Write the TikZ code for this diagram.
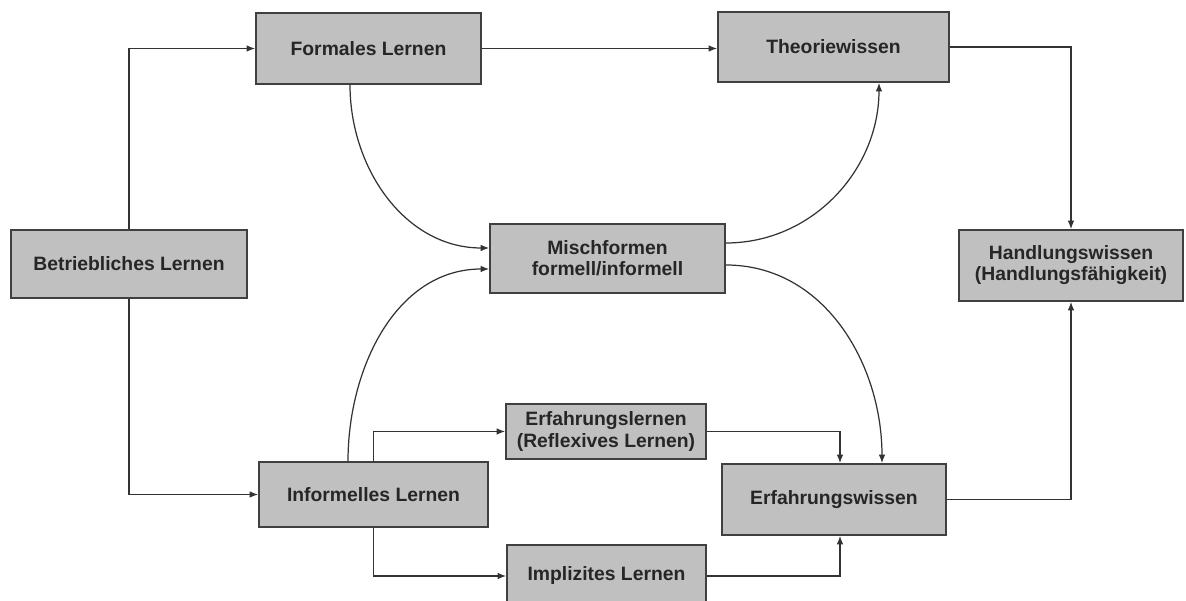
\documentclass[tikz,border=0pt]{standalone}
\usepackage{fontspec}
\setmainfont{Liberation Sans}
\usepackage{xcolor}
\usetikzlibrary{positioning,calc,arrows.meta}

\begin{document}
\begin{tikzpicture}[
    every node/.style={draw=boxline,fill=boxfill,line width=0.9pt,inner sep=0pt,align=center,
      font=\fontsize{11}{12}\selectfont\bfseries,text=black!85},
    conn/.style={draw=arrowline,line width=0.7pt,-{Latex[length=1.7mm,width=1.3mm]}}
  ]
  \definecolor{boxfill}{HTML}{C0C0C0}
  \definecolor{boxline}{HTML}{404040}
  \definecolor{arrowline}{HTML}{333333}

  \useasboundingbox (0,0) rectangle (23.72,-12.02);

  \node[minimum width=4.72cm,minimum height=1.36cm] at (2.58,-5.28)   (betrieb)   {Betriebliches Lernen};
  \node[minimum width=4.50cm,minimum height=1.42cm] at (7.37,-0.97)   (formal)    {Formales Lernen};
  \node[minimum width=4.62cm,minimum height=1.40cm] at (16.67,-0.94)  (theorie)   {Theoriewissen};
  \node[minimum width=4.70cm,minimum height=1.38cm] at (12.15,-5.17)  (misch)     {Mischformen\\formell/informell};
  \node[minimum width=4.48cm,minimum height=1.42cm] at (21.42,-5.31)  (handlung)  {Handlungswissen\\(Handlungsfähigkeit)};
  \node[minimum width=4.58cm,minimum height=1.30cm] at (7.47,-9.89)   (informell) {Informelles Lernen};
  \node[minimum width=4.00cm,minimum height=1.10cm] at (12.12,-8.63)  (erflernen) {Erfahrungslernen\\(Reflexives Lernen)};
  \node[minimum width=4.48cm,minimum height=1.42cm] at (16.68,-9.99)  (erfwissen) {Erfahrungswissen};
  \node[minimum width=3.98cm,minimum height=1.24cm] at (12.13,-11.52) (implizit)  {Implizites Lernen};

  \draw[conn] (betrieb.north) |- (formal.west);
  \draw[conn] (betrieb.south) |- (informell.west);
  \draw[conn] (formal.east) -- (formal.east -| theorie.west);
  \draw[conn] (theorie.east) -| (handlung.north);
  \draw[conn] (erfwissen.east) -| (handlung.south);

  \draw[conn] ([xshift=-0.37cm]formal.south) to[out=-90,in=180] ([yshift=0.21cm]misch.west);
  \draw[conn] ([xshift=-0.51cm]informell.north) to[out=90,in=180] ([yshift=-0.21cm]misch.west);
  \draw[conn] ([yshift=0.31cm]misch.east) to[out=0,in=-90] ([xshift=0.91cm]theorie.south);
  \draw[conn] ([yshift=-0.13cm]misch.east) to[out=0,in=90] ([xshift=0.96cm]erfwissen.north);

  \draw[conn] (informell.north) |- (erflernen.west);
  \draw[conn] (informell.south) |- (implizit.west);
  \draw[conn] (erflernen.east) -| ([xshift=0.12cm]erfwissen.north);
  \draw[conn] (implizit.east) -| ([xshift=0.12cm]erfwissen.south);
\end{tikzpicture}
\end{document}
